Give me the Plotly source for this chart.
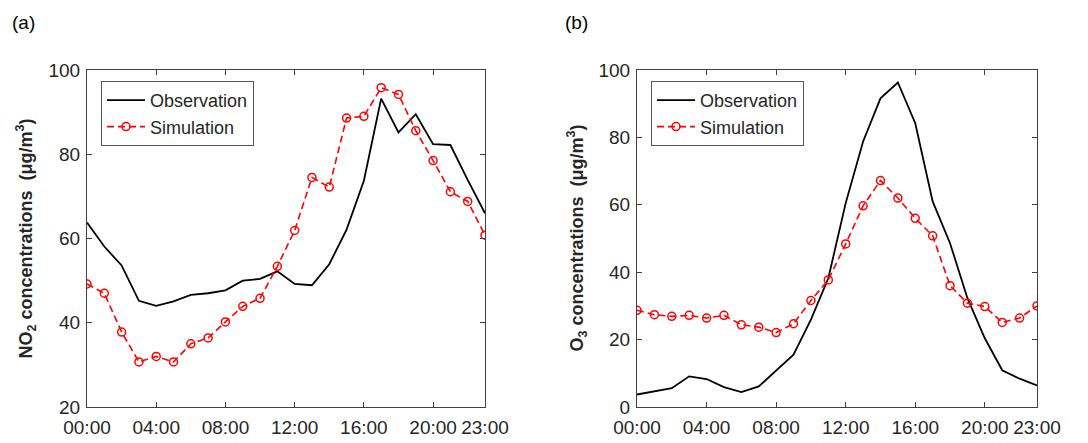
import plotly.graph_objects as go

hours = list(range(24))
tick_vals = [0, 4, 8, 12, 16, 20, 23]
tick_text = ["00:00", "04:00", "08:00", "12:00", "16:00", "20:00", "23:00"]

no2_obs = [63.8, 58.1, 53.6, 45.2, 44.0, 45.1, 46.6, 47.0, 47.7, 50.0, 50.4, 52.2,
           49.2, 48.9, 53.9, 62.1, 73.7, 93.2, 85.2, 89.5, 82.4, 82.2, 73.9, 66.0]
no2_sim = [49.2, 47.0, 37.8, 30.7, 32.0, 30.7, 35.0, 36.4, 40.2, 43.9, 45.8, 53.4,
           61.9, 74.5, 72.2, 88.6, 89.0, 95.8, 94.2, 85.6, 78.5, 71.1, 68.8, 60.8]
o3_obs = [3.7, 4.6, 5.6, 9.1, 8.3, 5.9, 4.4, 6.1, 10.9, 15.5, 25.9, 38.2,
          60.5, 78.8, 91.6, 96.3, 84.2, 61.0, 48.6, 32.3, 20.4, 10.9, 8.4, 6.4]
o3_sim = [28.7, 27.4, 26.9, 27.2, 26.4, 27.2, 24.4, 23.7, 22.1, 24.7, 31.6, 37.7,
          48.4, 59.7, 67.2, 62.0, 56.0, 50.8, 36.0, 30.8, 29.8, 25.1, 26.4, 30.0]

# page body has an 8px default margin; figure is sized to fit the window
OFF = 8
W, H = 1088 - OFF, 443 - OFF
FONT = "Arial, Liberation Sans, Helvetica, sans-serif"
AX = "#404040"
TXT = "#262626"

def px(x):
    return (x - OFF) / W

def py(y):
    return 1 - (y - OFF) / H

fig = go.Figure()

def add_panel(obs, sim, xa, ya, leg):
    fig.add_trace(go.Scatter(x=hours, y=obs, mode="lines", name="Observation",
                             line=dict(color="black", width=1.8),
                             xaxis=xa, yaxis=ya, legend=leg))
    fig.add_trace(go.Scatter(x=hours, y=sim, mode="lines+markers", name="Simulation",
                             line=dict(color="#ff0000", width=1.6, dash="7px,4px"),
                             marker=dict(symbol="circle-open", size=8,
                                         color="#ff0000", line=dict(width=1.5, color="#ff0000")),
                             xaxis=xa, yaxis=ya, legend=leg))

add_panel(no2_obs, no2_sim, "x", "y", "legend")
add_panel(o3_obs, o3_sim, "x2", "y2", "legend2")

ytop = py(70)
ybot = py(407)

xcommon = dict(range=[0, 23], tickvals=tick_vals, ticktext=tick_text,
               ticks="inside", ticklen=5, tickcolor=AX, tickwidth=1,
               showline=True, linecolor=AX, linewidth=1, mirror="ticks",
               showgrid=False, zeroline=False, automargin=False,
               ticklabelstandoff=3,
               tickfont=dict(family=FONT, size=19, color=TXT))
ycommon = dict(ticks="inside", ticklen=5, tickcolor=AX, tickwidth=1,
               showline=True, linecolor=AX, linewidth=1, mirror="ticks",
               showgrid=False, zeroline=False, automargin=False,
               ticklabelstandoff=2,
               tickfont=dict(family=FONT, size=19, color=TXT))

legcommon = dict(bgcolor="white", bordercolor="#555555", borderwidth=1,
                 font=dict(family=FONT, size=18, color=TXT), itemwidth=38,
                 xanchor="left", yanchor="top", tracegroupgap=0)

fig.update_layout(
    width=W, height=H,
    margin=dict(l=0, r=0, t=0, b=0),
    paper_bgcolor="white", plot_bgcolor="white",
    xaxis=dict(domain=[px(87), px(485)], anchor="y", **xcommon),
    yaxis=dict(domain=[ybot, ytop], anchor="x", range=[20, 100],
               tickvals=[20, 40, 60, 80, 100], **ycommon),
    xaxis2=dict(domain=[px(637), px(1037)], anchor="y2", **xcommon),
    yaxis2=dict(domain=[ybot, ytop], anchor="x2", range=[0, 100],
                tickvals=[0, 20, 40, 60, 80, 100], **ycommon),
    legend=dict(x=px(101), y=py(81), **legcommon),
    legend2=dict(x=px(651), y=py(81), **legcommon),
    annotations=[
        dict(text="(a)", x=px(10), y=py(22), xref="paper", yref="paper",
             xanchor="left", yanchor="middle", showarrow=False,
             font=dict(family=FONT, size=19, color="black")),
        dict(text="(b)", x=px(563), y=py(22), xref="paper", yref="paper",
             xanchor="left", yanchor="middle", showarrow=False,
             font=dict(family=FONT, size=19, color="black")),
        dict(text="<b>NO<sub>2</sub> concentrations  (μg/m<sup>3</sup>)</b>",
             x=px(26), y=(ybot + ytop) / 2, xref="paper", yref="paper",
             xanchor="center", yanchor="middle", textangle=-90, showarrow=False,
             font=dict(family=FONT, size=18, color=TXT)),
        dict(text="<b>O<sub>3</sub> concentrations  (μg/m<sup>3</sup>)</b>",
             x=px(577), y=(ybot + ytop) / 2, xref="paper", yref="paper",
             xanchor="center", yanchor="middle", textangle=-90, showarrow=False,
             font=dict(family=FONT, size=18, color=TXT)),
    ],
)

fig.write_html("out.html")
